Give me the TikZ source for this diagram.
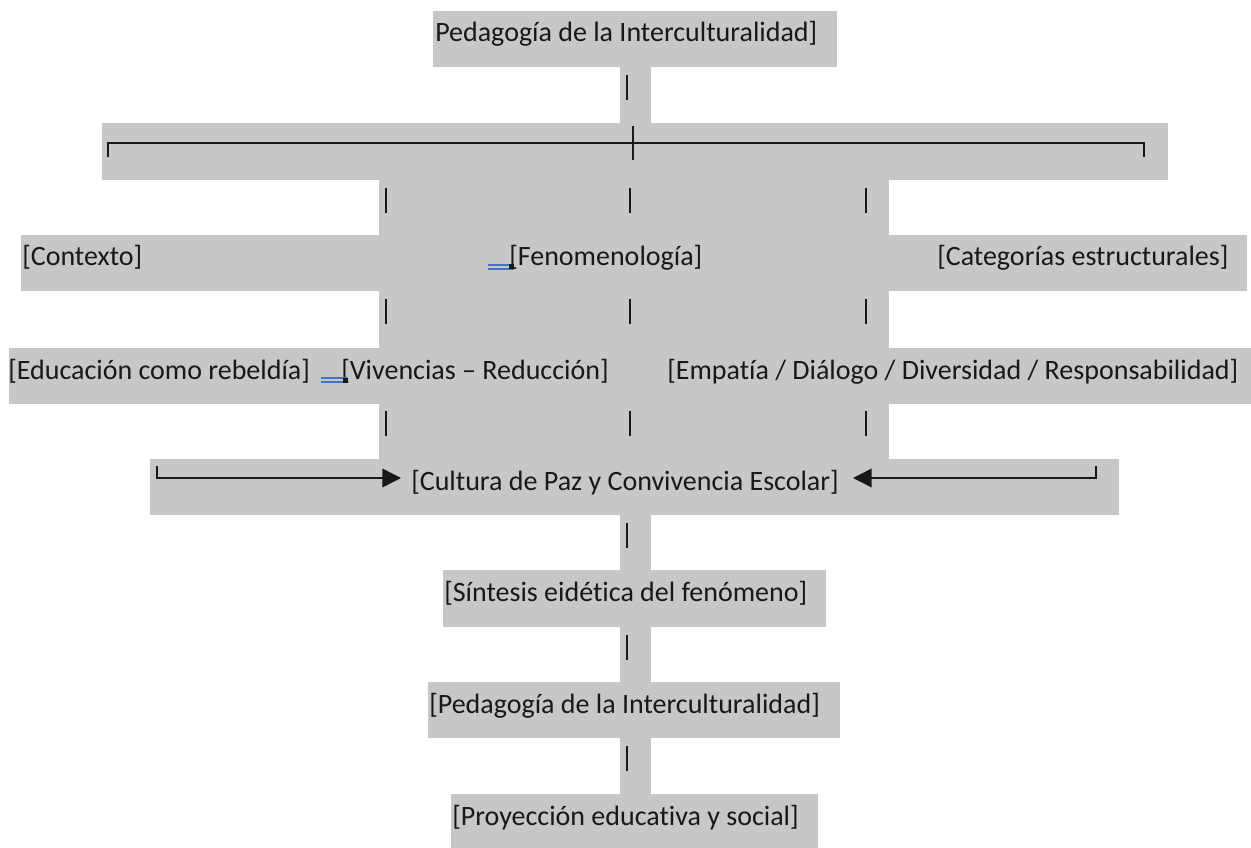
\documentclass[tikz,border=0pt]{standalone}
\usepackage{fontspec}
\setmainfont{Carlito}[Ligatures={NoCommon}]
\usetikzlibrary{arrows.meta}
\definecolor{band}{RGB}{199,199,199}
\definecolor{markblue}{RGB}{68,114,196}
\definecolor{ink}{RGB}{24,24,24}

\begin{document}
\begin{tikzpicture}[x=0.75pt,y=-0.75pt,
  labeltext/.style={anchor=base west, inner sep=0pt, text=ink,
                    font=\fontsize{21}{25}\selectfont},
  bar/.style={draw=ink, line width=1.4pt},
  rule/.style={draw=ink, line width=1.1pt},
  tri/.style={-{Triangle[length=14pt,width=14pt]}},
  dblmark/.style={draw=markblue, line width=1.1pt}
]
\useasboundingbox (0,0) rectangle (1251,848);

% highlighted background bands, one per line
\fill[band] (433,11) rectangle (837,67);
\fill[band] (620,67) rectangle (651,123);
\fill[band] (102,123) rectangle (1168,180);
\fill[band] (379,180) rectangle (889,235);
\fill[band] (21,235) rectangle (1247,291);
\fill[band] (379,291) rectangle (889,348);
\fill[band] (9,348) rectangle (1251,404);
\fill[band] (379,404) rectangle (889,459);
\fill[band] (150,459) rectangle (1119,515);
\fill[band] (620,515) rectangle (651,570);
\fill[band] (443,570) rectangle (826,627);
\fill[band] (620,627) rectangle (651,682);
\fill[band] (428,682) rectangle (840,738);
\fill[band] (620,738) rectangle (651,794);
\fill[band] (451,794) rectangle (818,848);

% text lines
\node[labeltext] (top) at (435,42) {Pedagogía de la Interculturalidad]};
\node[labeltext] (ctx) at (22,266) {[Contexto]};
\node[labeltext] (fen) at (509,266) {[Fenomenología]};
\node[labeltext] (cat) at (937,266) {[Categorías estructurales]};
\node[labeltext] (edu) at (8,379) {[Educación como rebeldía]};
\node[labeltext] (viv) at (341,379) {[Vivencias – Reducción]};
\node[labeltext] (emp) at (667,379) {[Empatía / Diálogo / Diversidad / Responsabilidad]};
\node[labeltext] (paz) at (411,490) {[Cultura de Paz y Convivencia Escolar]};
\node[labeltext] (sin) at (444,601) {[Síntesis eidética del fenómeno]};
\node[labeltext] (ped) at (429,713) {[Pedagogía de la Interculturalidad]};
\node[labeltext] (pro) at (452,825) {[Proyección educativa y social]};

% vertical bars between lines
\foreach \x/\y in {627/75,
                   386/188, 630/188, 866/188,
                   386/299, 630/299, 866/299,
                   386/411, 630/411, 866/411,
                   627/523, 627/635, 627/746}
  \draw[bar] (\x,\y) -- ++(0,25);

% branching bracket under the title
\coordinate (hub) at (633,143);
\coordinate (bl) at (108,157);
\coordinate (br) at (1144,157);
\draw[rule] (bl) |- (hub) -| (br);
\draw[bar] (633,126) -- (633,160);

% converging arrows towards the central concept
\coordinate (pl) at (157,466);
\coordinate (pr) at (1096,466);
\coordinate (pa) at (401,478);
\coordinate (pb) at (853,478);
\draw[rule,tri] (pl) |- (pa);
\draw[rule,tri] (pr) |- (pb);

% double underline marks
\draw[dblmark] (488,265) -- (514,265) (488,269) -- (514,269);
\fill[ink] (509,264.5) rectangle (514,269.5);
\draw[dblmark] (321,378) -- (348,378) (321,382) -- (348,382);
\fill[ink] (343,377.5) rectangle (348,382.5);
\end{tikzpicture}
\end{document}
